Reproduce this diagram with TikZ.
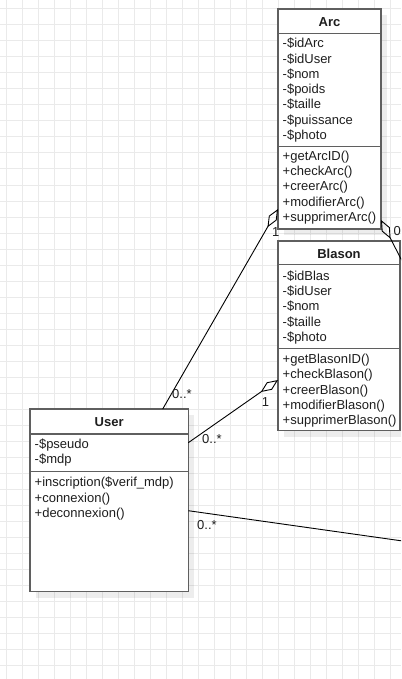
\documentclass[tikz,border=0pt]{standalone}
\usepackage{fontspec}
\setmainfont{Liberation Sans}
\usetikzlibrary{arrows.meta}
\definecolor{gridc}{RGB}{234,234,234}
\definecolor{boxc}{RGB}{95,95,95}
\definecolor{txtc}{RGB}{30,30,30}
\begin{document}
\begin{tikzpicture}[x=1pt,y=-1pt,
  umlbox/.style={draw=boxc,line width=1.5pt,fill=white,inner sep=0pt,outer sep=0pt,anchor=north west},
  shadowbox/.style={fill=black,opacity=0.07},
  sep/.style={draw=boxc,line width=1.5pt},
  title/.style={font=\fontsize{13}{15.3}\selectfont\bfseries,inner sep=0pt,text=txtc},
  members/.style={font=\fontsize{13}{15.3}\selectfont,align=left,anchor=west,inner sep=0pt,text=txtc},
  lbl/.style={font=\fontsize{13}{15}\selectfont,inner sep=0pt,text=txtc},
  assoc/.style={draw=black,line width=0.9pt},
  gridline/.style={draw=gridc,line width=1pt}
]
\useasboundingbox (0,0) rectangle (401,679);
\clip (0,0) rectangle (401,679);
\fill[white] (0,0) rectangle (401,679);
% grid
\foreach \x in {6,22,...,398} \draw[gridline] (\x,0) -- (\x,679);
\foreach \y in {9,25,...,677} \draw[gridline] (0,\y) -- (401,\y);

% shadows
\fill[shadowbox] (284,15) rectangle (387,235);
\fill[shadowbox] (284,247) rectangle (406,436.7);
\fill[shadowbox] (36,415) rectangle (194.3,597.7);

% Arc
\node[umlbox,minimum width=103pt,minimum height=220pt] (arc) at (278,9) {};
\draw[sep] ([yshift=-24.3pt]arc.north west) -- ([yshift=-24.3pt]arc.north east);
\draw[sep] ([yshift=-137.7pt]arc.north west) -- ([yshift=-137.7pt]arc.north east);
\node[title] (arct) at ([yshift=-13pt]arc.north) {Arc};
\node[members] (arca) at ([xshift=4.5pt,yshift=-81.2pt]arc.north west)
  {-\$idArc\\-\$idUser\\-\$nom\\-\$poids\\-\$taille\\-\$puissance\\-\$photo};
\node[members] (arcm) at ([xshift=4.5pt,yshift=-178.5pt]arc.north west)
  {+getArcID()\\+checkArc()\\+creerArc()\\+modifierArc()\\+supprimerArc()};

% Blason
\node[umlbox,minimum width=122pt,minimum height=189.7pt] (blason) at (278,241) {};
\draw[sep] ([yshift=-23.3pt]blason.north west) -- ([yshift=-23.3pt]blason.north east);
\draw[sep] ([yshift=-107.3pt]blason.north west) -- ([yshift=-107.3pt]blason.north east);
\node[title] (blasont) at ([yshift=-12.8pt]blason.north) {Blason};
\node[members] (blasona) at ([xshift=4.5pt,yshift=-66.5pt]blason.north west)
  {-\$idBlas\\-\$idUser\\-\$nom\\-\$taille\\-\$photo};
\node[members] (blasonm) at ([xshift=4.5pt,yshift=-149.8pt]blason.north west)
  {+getBlasonID()\\+checkBlason()\\+creerBlason()\\+modifierBlason()\\+supprimerBlason()};

% User
\node[umlbox,minimum width=158.3pt,minimum height=182.7pt] (user) at (30,409) {};
\draw[sep] ([yshift=-25pt]user.north west) -- ([yshift=-25pt]user.north east);
\draw[sep] ([yshift=-62.7pt]user.north west) -- ([yshift=-62.7pt]user.north east);
\node[title] (usert) at ([yshift=-13.2pt]user.north) {User};
\node[members] (usera) at ([xshift=4.5pt,yshift=-43.5pt]user.north west)
  {-\$pseudo\\-\$mdp};
\node[members] (userm) at ([xshift=4.5pt,yshift=-89.8pt]user.north west)
  {+inscription(\$verif\_mdp)\\+connexion()\\+deconnexion()};

% connectors
\coordinate (offA) at (421,298);
\coordinate (offU) at (431,545);
\draw[assoc,-{Diamond[open,length=21pt,width=9pt]}] ([xshift=132.7pt]user.north west) -- ([yshift=-200pt]arc.north west);
\draw[assoc,-{Diamond[open,length=21pt,width=9pt]}] ([yshift=-33.7pt]user.north east) -- ([yshift=-139pt]blason.north west);
\draw[assoc,{Diamond[open,length=21pt,width=9pt]}-] ([yshift=-211pt]arc.north east) -- (offA);
\draw[assoc] ([yshift=-101.7pt]user.north east) -- (offU);

% multiplicities
\node[lbl] (m1) at (275.7,232.5) {1};
\node[lbl] (m2) at (182,394.5) {0..*};
\node[lbl] (m3) at (265.5,402) {1};
\node[lbl] (m4) at (212,439.5) {0..*};
\node[lbl] (m5) at (207,525.5) {0..*};
\node[lbl,anchor=west] (m6) at (393.5,231.5) {0};
\end{tikzpicture}
\end{document}
